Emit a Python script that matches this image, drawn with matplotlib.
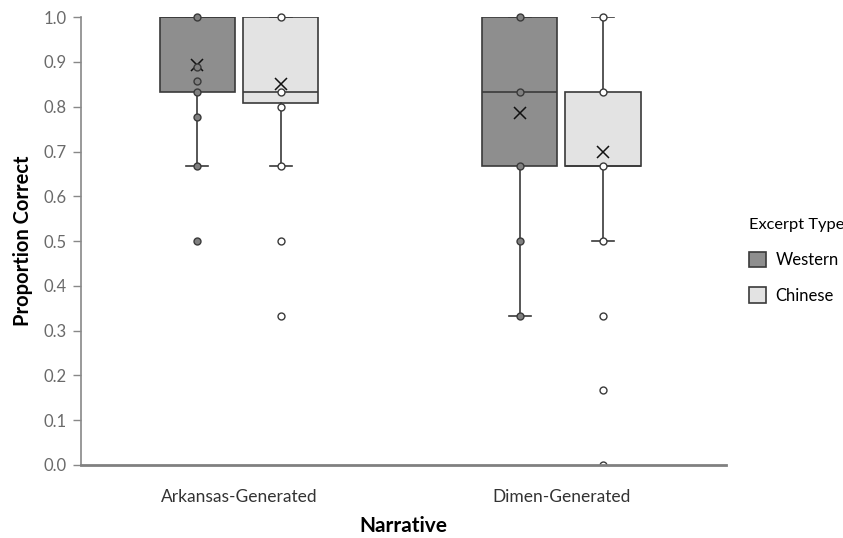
import numpy as np
import matplotlib.pyplot as plt
import matplotlib.patches as mpatches

plt.rcParams['font.family'] = ['Lato', 'DejaVu Sans']

narratives = ["Arkansas-Generated", "Dimen-Generated"]
excerpt_types = ["Western", "Chinese"]

# box stats per (narrative, excerpt type): q1, median, q3, whisker low, whisker high, mean
q1 = {"Western": [0.833, 0.667], "Chinese": [0.808, 0.667]}
median = {"Western": [1.0, 0.833], "Chinese": [0.833, 0.667]}
q3 = {"Western": [1.0, 1.0], "Chinese": [1.0, 0.833]}
whis_lo = {"Western": [0.667, 0.333], "Chinese": [0.667, 0.5]}
whis_hi = {"Western": [1.0, 1.0], "Chinese": [1.0, 1.0]}
means = {"Western": [0.893, 0.786], "Chinese": [0.850, 0.700]}

# individual points drawn by the chart (inner points and outliers)
points = {
    "Western": [
        [1.0, 0.889, 0.857, 0.833, 0.778, 0.667, 0.5],
        [1.0, 0.833, 0.667, 0.5, 0.333],
    ],
    "Chinese": [
        [1.0, 0.833, 0.8, 0.667, 0.5, 0.333],
        [1.0, 0.833, 0.667, 0.5, 0.333, 0.167, 0.0],
    ],
}

fills = {"Western": "#8e8e8e", "Chinese": "#e3e3e3"}
dot_fills = {"Western": "#808080", "Chinese": "#ffffff"}
edge = "#3a3a3a"
offsets = {"Western": -0.129, "Chinese": 0.129}
box_w = 0.233

fig = plt.figure(figsize=(8.43, 5.38), dpi=100)
ax = fig.add_axes([0.0961, 0.1357, 0.765, 0.8323])

clip = mpatches.Rectangle((0, 0), 1, 1.05, transform=ax.transAxes, visible=False)
ax.add_patch(clip)

for et in excerpt_types:
    stats = []
    pos = []
    for i in range(len(narratives)):
        stats.append(dict(q1=q1[et][i], med=median[et][i], q3=q3[et][i],
                          whislo=whis_lo[et][i], whishi=whis_hi[et][i],
                          mean=means[et][i], fliers=[]))
        pos.append(i + 1 + offsets[et])
    ax.bxp(stats, positions=pos, widths=box_w, patch_artist=True,
           showmeans=True, showfliers=False, capwidths=0.068,
           boxprops=dict(facecolor=fills[et], edgecolor=edge, linewidth=1.2),
           medianprops=dict(color=edge, linewidth=1.2),
           whiskerprops=dict(color=edge, linewidth=1.2),
           capprops=dict(color=edge, linewidth=1.2),
           meanprops=dict(marker="x", markeredgecolor="#111111", markersize=9,
                          markeredgewidth=1.1))
    for i, vals in enumerate(points[et]):
        pts = ax.plot([i + 1 + offsets[et]] * len(vals), vals, linestyle="none",
                      marker="o", markersize=5, markerfacecolor=dot_fills[et],
                      markeredgecolor=edge, markeredgewidth=1.0, zorder=4,
                      clip_on=True)
        pts[0].set_clip_path(clip)

ax.set_xlim(0.51, 2.51)
ax.set_ylim(0, 1.0)
ax.set_yticks(np.arange(0, 1.01, 0.1))
ax.set_yticklabels([f"{v:.1f}" for v in np.arange(0, 1.01, 0.1)])
ax.set_xticks([1, 2])
ax.set_xticklabels(narratives, fontsize=12.5, color="#333333")
ax.tick_params(axis="x", length=0, pad=17)
ax.tick_params(axis="y", direction="out", length=6, width=1, color="#888888",
               labelsize=12, labelcolor="#6a6a6a", pad=4)

for s in ["top", "right"]:
    ax.spines[s].set_visible(False)
ax.spines["left"].set_color("#888888")
ax.spines["left"].set_linewidth(1.2)
ax.spines["bottom"].set_color("#808080")
ax.spines["bottom"].set_linewidth(2.0)
ax.spines["bottom"].set_zorder(5)

ax.set_ylabel("Proportion Correct", fontsize=14.5, fontweight="bold", labelpad=8)
ax.set_xlabel("Narrative", fontsize=15, fontweight="bold", labelpad=8)

handles = [mpatches.Patch(facecolor=fills[et], edgecolor=edge, linewidth=1.2, label=et)
           for et in excerpt_types]
leg = fig.legend(handles=handles, title="Excerpt Type", loc="center left",
                 bbox_to_anchor=(0.888, 0.515), frameon=False, fontsize=12,
                 title_fontsize=11.8, handlelength=1.05, handleheight=1.05,
                 labelspacing=1.15, handletextpad=0.55, borderpad=0,
                 borderaxespad=0)
leg._legend_box.align = "left"
leg._legend_box.sep = 14

fig.savefig("out.png", dpi=100)
